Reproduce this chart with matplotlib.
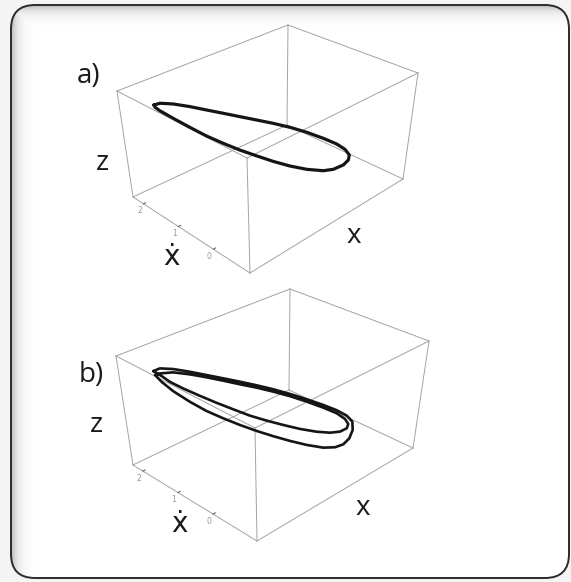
import itertools

import matplotlib
matplotlib.use("Agg")
import matplotlib.pyplot as plt
import numpy as np
from matplotlib.patches import FancyBboxPatch

# axis ranges of the two phase-space boxes
x_range = (-2.2, 2.06)
xdot_range_a = (-1.05, 2.3)
xdot_range_b = (-1.25, 2.28)
z_range = (0.0, 1.0)
xdot_ticks = [0, 1, 2]

# a) period-one limit cycle
loop_a_x = [-1.627, -1.552, -1.393, -1.194, -0.995, -0.796, -0.597, -0.394, -0.191, 0.013,
            0.219, 0.426, 0.596, 0.704, 0.762, 0.755, 0.697, 0.573, 0.446, 0.235,
            0.020, -0.191, -0.402, -0.611, -0.814, -1.016, -1.215, -1.410, -1.562, -1.618]
loop_a_xdot = [1.992, 1.906, 1.724, 1.496, 1.268, 1.040, 0.813, 0.581, 0.349, 0.116,
               -0.120, -0.357, -0.551, -0.675, -0.742, -0.734, -0.667, -0.525, -0.380, -0.139,
               0.108, 0.349, 0.590, 0.829, 1.062, 1.292, 1.520, 1.743, 1.917, 1.981]
loop_a_z = [0.840, 0.861, 0.863, 0.848, 0.825, 0.802, 0.777, 0.751, 0.724, 0.690,
            0.646, 0.591, 0.538, 0.488, 0.436, 0.389, 0.344, 0.304, 0.291, 0.303,
            0.331, 0.370, 0.417, 0.465, 0.520, 0.580, 0.652, 0.727, 0.789, 0.820]

# b) period-two orbit: first turn (outer), then second turn (inner)
loop_b_x = [-1.639, -1.559, -1.406, -1.216, -1.026, -0.835, -0.643, -0.451, -0.257, -0.062,
            0.136, 0.334, 0.496, 0.620, 0.692, 0.704, 0.671, 0.603, 0.504, 0.359,
            0.153, -0.054, -0.259, -0.461, -0.663, -0.861, -1.056, -1.247, -1.433, -1.557,
            -1.625,
            -1.565, -1.410, -1.219, -1.028, -0.838, -0.645, -0.451, -0.257, -0.061, 0.137,
            0.336, 0.498, 0.602, 0.645, 0.630, 0.552, 0.432, 0.269, 0.066, -0.137,
            -0.339, -0.538, -0.736, -0.930, -1.122, -1.311, -1.460, -1.538]
loop_b_xdot = [1.969, 1.873, 1.688, 1.459, 1.230, 1.001, 0.769, 0.537, 0.304, 0.068,
               -0.170, -0.408, -0.604, -0.753, -0.841, -0.855, -0.815, -0.733, -0.613, -0.440,
               -0.191, 0.058, 0.306, 0.550, 0.792, 1.032, 1.266, 1.496, 1.720, 1.871,
               1.952,
               1.880, 1.693, 1.462, 1.232, 1.004, 0.771, 0.538, 0.304, 0.068, -0.171,
               -0.411, -0.606, -0.731, -0.784, -0.766, -0.671, -0.527, -0.331, -0.085, 0.159,
               0.402, 0.642, 0.880, 1.114, 1.346, 1.574, 1.753, 1.848]
loop_b_z = [0.836, 0.866, 0.870, 0.856, 0.836, 0.815, 0.792, 0.766, 0.735, 0.697,
            0.652, 0.602, 0.555, 0.506, 0.451, 0.374, 0.297, 0.241, 0.213, 0.208,
            0.230, 0.263, 0.301, 0.343, 0.391, 0.444, 0.502, 0.577, 0.664, 0.742,
            0.801,
            0.819, 0.839, 0.832, 0.815, 0.793, 0.768, 0.744, 0.713, 0.676, 0.630,
            0.577, 0.527, 0.475, 0.429, 0.389, 0.358, 0.347, 0.354, 0.376, 0.408,
            0.443, 0.482, 0.533, 0.584, 0.639, 0.696, 0.748, 0.790]

W_PX, H_PX = 571, 582

# where the eight corners of each plot box sit on the page (pixels),
# keyed by (x end, xdot end, z end) with 0 = lower limit, 1 = upper limit
view_a = {(0, 0, 0): (250, 273), (1, 0, 0): (403, 179), (0, 1, 0): (133, 197), (1, 1, 0): (287, 125),
          (0, 0, 1): (247, 158), (1, 0, 1): (418, 73), (0, 1, 1): (117, 91), (1, 1, 1): (288, 25)}
view_b = {(0, 0, 0): (257, 541), (1, 0, 0): (413, 448), (0, 1, 0): (133, 465), (1, 1, 0): (289, 390),
          (0, 0, 1): (255, 428), (1, 0, 1): (429, 341), (0, 1, 1): (116, 356), (1, 1, 1): (290, 289)}


def project(view, ranges, x, xd, z):
    """Map (x, xdot, z) into page pixels by blending the box corners."""
    t = [(np.asarray(v, float) - lo) / (hi - lo) for v, (lo, hi) in zip((x, xd, z), ranges)]
    px, py = 0.0, 0.0
    for (i, j, k), (cx, cy) in view.items():
        w = ((t[0] if i else 1 - t[0]) * (t[1] if j else 1 - t[1])
             * (t[2] if k else 1 - t[2]))
        px = px + w * cx
        py = py + w * cy
    return px, py


def draw_panel(ax, view, ranges, xs, xds, zs, lw):
    # the twelve box edges
    for c in itertools.product((0, 1), repeat=3):
        for d in range(3):
            if c[d]:
                continue
            c2 = list(c)
            c2[d] = 1
            p1 = [ranges[i][c[i]] for i in range(3)]
            p2 = [ranges[i][c2[i]] for i in range(3)]
            px, py = project(view, ranges, *zip(p1, p2))
            ax.plot(px, py, color="#a3a3a3", lw=0.7, zorder=2)

    # xdot ticks along the lower left edge
    (x0, x1), _, (z0, _) = ranges
    for t in xdot_ticks:
        px, py = project(view, ranges, [x0, x0 + 0.014 * (x1 - x0)], [t, t], [z0, z0])
        ax.plot(px, py, color="#666666", lw=0.8, zorder=2)
        ax.text(px[0] - 4, py[0] + 7, str(t), fontsize=5.5, color="#9a9a9a",
                ha="center", va="center", zorder=4)

    # the orbit itself, closed back on its first point
    xs = np.append(xs, xs[0])
    xds = np.append(xds, xds[0])
    zs = np.append(zs, zs[0])
    px, py = project(view, ranges, xs, xds, zs)
    ax.plot(px, py, color="#151515", lw=lw, solid_joinstyle="round",
            solid_capstyle="round", zorder=3)


fig = plt.figure(figsize=(W_PX / 100, H_PX / 100), dpi=100, facecolor="#f4f4f4")
ax = fig.add_axes([0, 0, 1, 1])
ax.set_axis_off()

# rounded outer frame with a soft inner shadow on the top and left
left, top, right, bottom = 11, 5, 569, 578
frame = FancyBboxPatch((left, top), right - left, bottom - top,
                       boxstyle="round,pad=0,rounding_size=24",
                       facecolor="white", edgecolor="none", zorder=0.5)
ax.add_patch(frame)
yy, xx = np.mgrid[0:H_PX, 0:W_PX] + 0.5
shade = np.maximum(np.exp(-np.clip(xx - left, 0, None) / 6.0),
                   np.exp(-np.clip(yy - top, 0, None) / 6.0)) * 0.30
img = np.zeros((H_PX, W_PX, 4))
img[..., 3] = shade
im = ax.imshow(img, extent=(0, W_PX, H_PX, 0), zorder=1, interpolation="bilinear",
               aspect="auto")
im.set_clip_path(frame)
ax.add_patch(FancyBboxPatch((left, top), right - left, bottom - top,
                            boxstyle="round,pad=0,rounding_size=24",
                            facecolor="none", edgecolor="#2b2b2b", lw=1.4, zorder=5))

ranges_a = (x_range, xdot_range_a, z_range)
ranges_b = (x_range, xdot_range_b, z_range)
draw_panel(ax, view_a, ranges_a, loop_a_x, loop_a_xdot, loop_a_z, lw=2.3)
draw_panel(ax, view_b, ranges_b, loop_b_x, loop_b_xdot, loop_b_z, lw=1.9)

font = dict(family=["Open Sans", "DejaVu Sans"], fontsize=20, color="#1a1a1a",
            ha="center", va="baseline", zorder=4)
ax.text(89, 83, "a)", **font)
ax.text(102.5, 170, "z", **font)
ax.text(354, 243, "x", **font)
ax.text(171, 265, "ẋ", **font)
ax.text(91, 382, "b)", **font)
ax.text(96, 432, "z", **font)
ax.text(362.5, 515, "x", **font)
ax.text(179, 532, "ẋ", **font)

ax.set_xlim(0, W_PX)
ax.set_ylim(H_PX, 0)
fig.savefig("out.png", dpi=100, facecolor=fig.get_facecolor())
